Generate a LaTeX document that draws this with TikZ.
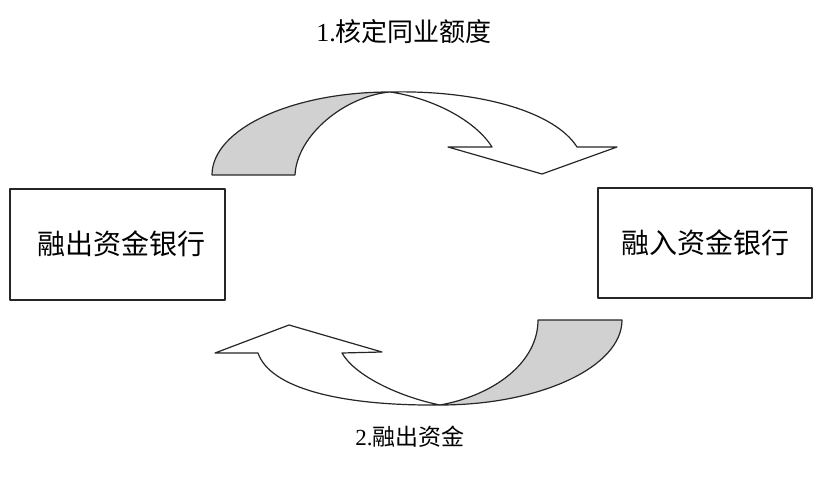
\documentclass[tikz,border=0pt]{standalone}
\usepackage{fontspec}
\setmainfont{Liberation Serif}
\newfontfamily\cjk{Noto Sans CJK SC}
\begin{document}
\begin{tikzpicture}[x=1pt,y=-1pt,
  outline/.style={draw=black!85,line width=1.2pt,line join=round},
  bank/.style={outline,rectangle,inner sep=0pt},
  label/.style={inner sep=0pt,font=\fontsize{26}{30}\selectfont}]
\useasboundingbox (0,0) rectangle (819,481);

% the two banks
\node[bank,minimum width=215pt,minimum height=111pt] (lend) at (117.5,244.5) {};
\node[bank,minimum width=214pt,minimum height=110pt] (borrow) at (705,243) {};
\node[label,font=\fontsize{28}{32}\selectfont] (lendtxt) at (121,244) {\cjk 融出资金银行};
\node[label,font=\fontsize{28}{32}\selectfont] (borrowtxt) at (705,243) {\cjk 融入资金银行};

% step labels
\node[label] (step1) at (404,32) {1.{\cjk 核定同业额度}};
\node[label,font=\fontsize{23}{28}\selectfont] (step2) at (410,437) {2.{\cjk 融出资金}};

% upper ribbon arrow: shaded back face, then white front face with head
\draw[outline,fill=black!18]
  (212,175) .. controls (212,129) and (292,92) .. (390,92)
  .. controls (345,96) and (297,135) .. (295,175) -- cycle;
\draw[outline,fill=white]
  (390,92) .. controls (480,90) and (555,112) .. (577,147)
  -- (617,147) -- (542,174) -- (448,147) -- (492,147)
  .. controls (475,120) and (432,98) .. (390,92);

% lower ribbon arrow
\draw[outline,fill=black!18]
  (622,320) .. controls (622,367) and (540,405) .. (440,405)
  .. controls (495,395) and (538,362) .. (538,320) -- cycle;
\draw[outline,fill=white]
  (440,405) .. controls (340,406) and (270,388) .. (258,353)
  -- (215,353) -- (289,325) -- (382,352) -- (342,353)
  .. controls (355,376) and (400,397) .. (440,405);
\end{tikzpicture}
\end{document}
